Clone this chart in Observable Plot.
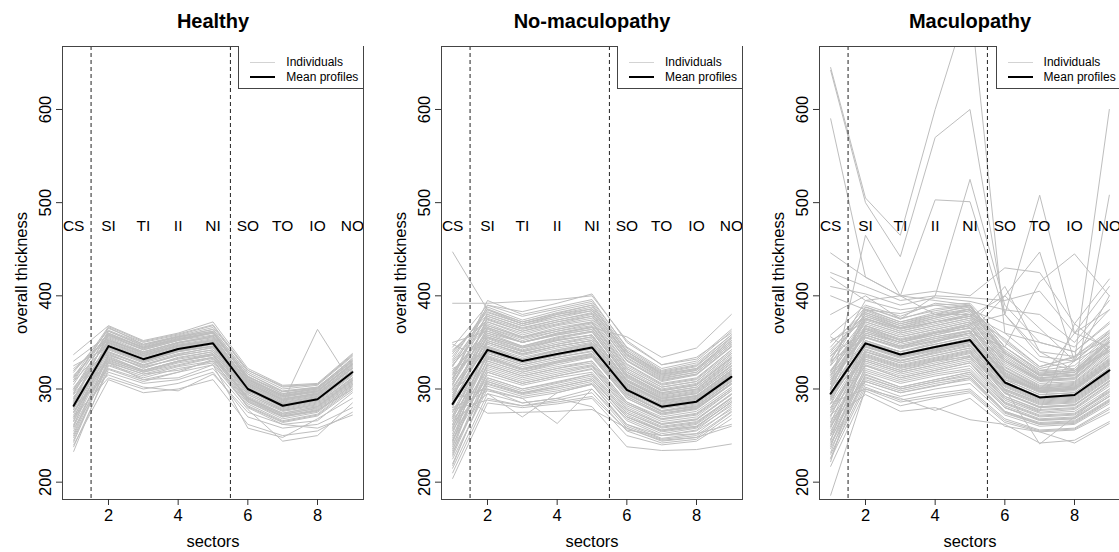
<!DOCTYPE html>
<html><head><meta charset="utf-8">
<script src="https://cdn.jsdelivr.net/npm/d3@7"></script>
<script src="https://cdn.jsdelivr.net/npm/@observablehq/plot@0.6"></script>
<style>
body{margin:0;background:#fff;}
#wrap{position:relative;width:1119px;height:552px;overflow:hidden;font-family:"Liberation Sans",Arial,sans-serif;background:#fff;}
.panel{position:absolute;top:0;width:385px;height:552px;}
.legend{position:absolute;top:46px;width:124.7px;height:43.3px;border:1px solid #444;border-top:none;border-right:none;background:#fff;font-size:12px;color:#000;box-sizing:border-box;}
.legend .ln{position:absolute;left:11px;width:25px;}
.legend .tx{position:absolute;left:47px;line-height:14px;white-space:nowrap;}
</style></head>
<body><div id="wrap"></div>
<script>
const sectorLabels = ["CS","SI","TI","II","NI","SO","TO","IO","NO"];
const panelTitles = ["Healthy","No-maculopathy","Maculopathy"];
const yTicks = [200,300,400,500,600];
const xTicks = [2,4,6,8];

const meanHealthy = [282,346,332,343,349,300,282,289,318];
const meanNoMac   = [284,342,330,337.5,344.6,299,281,286.4,313];
const meanMac     = [295,349,337,345,352.5,307,291,293.6,320];

const healthy = [
[300,352,338,349,356,306,288,294,322],[285,360,345,355,362,314,295,300,330],[270,340,326,336,342,296,278,285,312],
[310,365,350,358,368,318,300,304,335],[255,335,320,330,338,290,272,280,308],[290,348,334,345,350,302,284,290,318],
[320,356,342,352,360,310,292,298,326],[245,330,318,326,334,286,270,276,305],[275,345,330,340,346,298,280,287,316],
[337,368,352,360,372,322,304,306,338],[265,338,322,334,340,292,276,282,310],[295,355,340,350,355,308,290,295,325],
[233,325,312,322,328,282,265,272,300],[305,362,346,356,364,316,298,302,332],[280,342,328,338,344,296,279,286,314],
[315,350,336,347,352,304,286,292,320],[250,332,320,330,336,288,271,278,306],[288,358,342,352,358,312,293,298,328],
[262,336,324,332,338,290,274,281,309],[298,346,332,342,348,300,283,289,317],[240,310,296,300,310,262,250,255,275],
[270,312,300,306,318,270,258,262,280],[282,315,302,298,316,275,262,258,272],[258,318,306,310,322,278,244,250,285],
[276,322,310,312,326,258,248,268,290],[292,328,316,320,330,284,266,273,302],[308,366,348,357,366,320,302,305,336],
[325,345,332,344,350,300,282,290,318],[268,350,336,346,352,304,287,293,322],[300,339,325,336,342,294,277,284,312],
[278,354,338,348,354,306,289,296,324],[248,326,314,324,330,286,268,275,303],[312,360,344,354,360,310,294,300,329],
[286,334,320,330,336,289,273,279,307],[302,344,330,341,346,298,281,288,315],[260,328,310,318,332,280,262,266,296],
[294,340,326,337,345,297,285,364,305],[272,352,340,350,357,308,291,297,327],[318,363,348,356,362,313,297,301,333],
[284,331,318,328,334,290,270,277,300],
[296,362,347,356,364,316,297,302,331],[266,344,330,341,348,300,283,290,318],[308,349,335,346,351,303,285,292,320],
[252,337,323,333,340,294,277,283,311],[290,357,343,353,360,311,293,299,327],[322,353,339,350,357,307,289,295,323],
[278,347,333,343,350,301,284,291,319],[243,329,316,325,333,287,271,277,304],[300,359,344,353,361,313,295,301,330],
[287,343,329,340,346,299,281,288,316],[260,351,337,347,353,305,288,294,322],[313,367,351,359,369,320,303,305,337],
[275,333,319,329,337,291,274,281,309],[330,358,345,354,361,309,292,297,326],[238,321,308,318,326,281,264,271,298]
];

const noMac = [
[284,342,330,338,345,300,282,287,314],[310,370,356,364,372,322,302,308,338],[250,315,304,312,318,276,260,265,290],
[335,385,372,382,390,340,318,325,355],[225,300,290,296,305,262,247,252,280],[296,352,340,348,356,308,290,295,322],
[270,330,318,326,334,290,272,278,305],[320,360,350,358,364,315,296,302,330],[240,322,310,318,325,282,265,270,298],
[345,390,378,386,394,345,322,330,362],[262,336,324,332,338,295,276,282,308],[300,355,342,352,358,310,292,298,325],
[215,295,285,290,300,258,244,248,275],[288,348,336,344,350,304,286,291,318],[328,375,362,372,380,330,308,315,345],
[255,326,314,322,330,286,268,274,300],[305,365,350,360,366,318,298,304,334],[232,310,298,306,314,272,256,262,288],
[276,345,332,342,348,302,283,289,316],[340,380,368,378,384,336,314,320,350],[268,338,326,334,341,297,279,284,311],
[292,358,346,355,362,312,293,300,328],[204,285,280,284,290,250,240,244,268],[315,368,356,366,372,324,304,310,340],
[246,318,306,314,322,278,262,267,294],[282,340,328,336,343,299,281,286,312],[325,372,360,369,376,327,306,312,342],
[258,332,320,328,335,292,274,280,306],[298,350,338,346,352,306,288,293,320],[220,305,294,300,308,266,250,256,284],
[447,385,370,380,388,340,316,322,352],[392,392,394,396,400,352,326,334,360],[290,300,285,290,281,238,234,235,241],
[280,298,290,263,300,262,250,255,278],[265,295,270,296,305,260,246,250,276],[300,274,275,276,278,258,245,248,260],
[350,362,350,359,366,356,334,344,380],[310,390,383,392,402,350,326,332,364],[238,328,316,324,330,286,270,276,302],
[272,344,330,340,346,300,282,288,315],[318,366,354,362,370,320,300,306,336],[228,312,300,308,316,274,258,263,290],
[286,352,340,348,354,306,287,293,320],[330,378,366,374,382,334,312,318,348],[260,324,312,320,326,284,267,272,298],
[302,356,344,353,358,310,291,297,325],[245,308,296,304,312,270,255,260,286],[294,346,334,342,349,303,285,290,317],
[275,334,322,330,337,294,276,281,308],[338,383,370,380,386,338,316,322,354],[210,290,282,288,296,255,242,246,272],
[308,362,350,358,364,316,296,302,332],[266,320,308,316,324,280,263,268,295],[322,340,330,336,344,298,284,290,316],
[252,350,338,346,352,305,287,292,319],[348,330,318,328,335,290,273,279,305],[236,303,292,298,306,268,252,258,282],
[290,376,364,372,378,330,309,316,346],[278,288,282,286,292,256,250,252,262],[312,395,380,388,396,344,320,328,358],
[292,366,352,362,368,318,299,305,334],[258,338,326,334,340,296,277,283,310],[316,380,368,376,384,336,313,320,350],
[244,326,314,322,328,284,268,273,300],[300,360,346,356,362,314,295,300,330],[270,350,337,346,352,306,287,292,320],
[332,388,374,384,392,342,319,326,358],[230,318,306,314,321,278,262,267,294],[284,356,344,352,358,309,290,296,324],
[306,372,358,368,374,326,305,311,342],[262,345,332,341,347,301,282,288,315],[218,308,296,302,310,270,254,259,286],
[296,335,322,330,338,294,276,281,309],[342,374,362,370,378,331,310,316,346],[248,340,328,336,343,298,280,285,312],
[280,364,350,360,367,318,298,304,333],[324,386,372,381,390,340,317,324,356],[256,312,300,307,316,274,259,264,291],
[288,378,365,374,381,333,311,318,348],[234,333,321,329,336,292,274,279,306],[312,358,345,354,361,313,294,299,327],
[268,306,295,302,310,270,256,260,286],[304,382,370,378,386,337,315,321,352],[242,354,341,350,356,308,289,295,322],
[326,368,355,364,371,322,302,308,338]
];

const mac = [
[296,350,338,346,354,308,292,294,321],[320,372,360,368,376,326,306,308,338],[260,326,314,322,330,288,274,276,300],
[345,388,375,386,390,345,318,322,356],[230,305,292,300,306,272,260,262,284],[305,358,346,354,362,314,297,300,327],
[280,340,328,336,344,300,285,287,313],[335,380,366,376,384,336,312,315,348],[250,318,306,314,320,282,268,270,294],
[288,345,333,341,348,304,289,291,317],[312,365,353,361,368,320,301,304,332],[272,334,322,330,338,296,280,283,309],
[217,298,282,290,296,264,254,256,275],[328,376,362,372,380,332,310,312,344],[300,352,340,348,356,310,294,296,323],
[242,312,300,308,314,276,263,265,288],[358,390,378,392,388,350,322,330,362],[284,342,330,338,346,302,287,289,315],
[265,330,318,326,334,292,277,279,305],[318,368,356,364,372,323,303,306,335],[225,302,288,295,300,268,256,258,280],
[292,348,336,344,352,306,291,293,319],[340,384,370,380,386,340,315,318,352],[255,322,310,318,325,285,271,273,297],
[308,362,350,358,366,317,299,302,330],[276,337,325,333,341,298,283,285,311],[186,300,286,292,298,266,255,257,278],
[330,355,343,351,358,312,296,298,325],[236,308,296,304,310,274,262,263,286],[298,385,381,390,392,352,324,335,363],
[268,294,276,280,267,262,242,245,265],[285,300,290,277,290,260,254,242,263],[645,505,465,600,720,360,330,320,340],
[642,500,442,570,600,380,335,330,350],[590,420,400,395,390,345,320,318,345],[300,465,400,380,390,340,315,318,342],
[380,400,375,400,525,390,350,340,370],[330,395,400,503,501,380,340,335,360],[310,360,350,360,370,380,508,360,385],
[290,350,340,350,360,400,447,330,400],[300,355,345,352,360,345,415,445,400],[280,340,330,340,350,320,300,330,600],
[295,345,335,342,350,310,300,300,508],[446,420,400,405,400,430,425,370,418],[425,410,395,400,398,395,405,360,410],
[410,402,390,398,394,385,380,350,395],[420,395,385,390,385,370,360,345,385],[400,385,372,380,380,360,350,340,372],
[315,375,365,372,378,400,365,330,360],[302,368,352,360,368,410,340,320,350],[250,332,320,330,335,300,241,270,300],
[320,364,350,360,365,330,310,360,345],[275,325,312,320,328,290,276,370,340],[338,378,365,372,378,354,324,334,355],
[246,315,302,310,318,280,266,268,292],[306,360,348,356,363,315,298,301,329],[262,328,316,324,332,290,275,278,303],
[325,370,358,366,374,328,308,310,340],[288,346,334,342,350,305,290,292,318],[350,382,368,378,384,338,314,316,350],
[240,310,298,306,312,275,262,264,287],[278,338,326,334,342,299,284,286,312],[314,366,354,362,370,321,302,305,333],
[356,330,318,326,334,292,278,280,306],[222,340,328,336,344,300,286,288,314],
[300,374,362,370,378,330,309,312,342],[258,336,324,332,340,296,281,283,308],[332,386,372,382,388,342,317,320,354],
[246,320,308,316,322,284,270,272,296],[310,358,346,356,362,316,298,300,328],[270,352,340,348,356,310,294,296,322],
[342,380,368,376,386,338,314,318,350],[232,325,312,320,328,286,272,274,298],[290,364,352,360,368,320,301,303,331],
[318,378,366,374,382,334,312,315,346],[264,347,335,343,351,306,290,292,318],[226,316,302,310,318,280,267,269,292],
[296,332,320,328,336,295,280,282,308],[352,372,360,368,376,330,309,311,342],[252,343,331,339,347,303,288,290,316],
[284,368,356,364,372,324,304,307,336],[326,388,376,384,390,345,320,325,358],[260,313,300,308,316,280,267,268,292],
[292,382,370,378,386,338,316,320,352],[238,335,323,331,339,296,281,283,309],[316,356,344,352,360,313,297,299,326],
[272,308,296,303,312,276,264,266,289],[306,376,364,372,380,332,311,314,345],[244,358,346,354,360,314,298,300,327],
[336,362,350,358,366,318,300,302,330]
];

const groups = [healthy, noMac, mac];
const means = [meanHealthy, meanNoMac, meanMac];
const FONT = '"Liberation Sans", Arial, sans-serif';
const wrap = document.getElementById("wrap");
const panelLefts = [0, 378.7, 757.3];

groups.forEach((g, gi) => {
  const indiv = [];
  g.forEach((row, id) => row.forEach((v, s) => indiv.push({id, sector: s + 1, value: v})));
  const meanData = means[gi].map((v, s) => ({sector: s + 1, value: v}));
  const chart = Plot.plot({
    width: 385, height: 552,
    marginLeft: 62, marginRight: 22, marginTop: 46, marginBottom: 53,
    x: {domain: [0.68, 9.32]},
    y: {domain: [181.4, 667.6]},
    style: {fontFamily: FONT, fontSize: "16px", background: "transparent", color: "#000", overflow: "visible"},
    marks: [
      Plot.lineY(indiv, {x: "sector", y: "value", z: "id", stroke: "#bebebe", strokeWidth: 1, clip: true}),
      Plot.lineY(meanData, {x: "sector", y: "value", stroke: "#000", strokeWidth: 2}),
      Plot.ruleX([1.5, 5.5], {stroke: "#222", strokeDasharray: "4,3", strokeWidth: 1}),
      Plot.text(sectorLabels, {x: (d, i) => i + 1, y: () => 475, text: d => d, fontSize: 15.5, fill: "#000", lineAnchor: "middle"}),
      Plot.frame({stroke: "#444"}),
      Plot.axisX({ticks: xTicks, tickSize: 6, tickPadding: 4, fontSize: 16.5, label: null, stroke: "#333"}),
      Plot.axisY({ticks: yTicks, tickSize: 6, tickRotate: -90, tickPadding: 6, fontSize: 16.5, label: null, stroke: "#333"}),
      Plot.text([panelTitles[gi]], {frameAnchor: "top", dy: -25, lineAnchor: "middle", textAnchor: "middle", fontWeight: "bold", fontSize: 20, fill: "#000"}),
      Plot.text(["sectors"], {frameAnchor: "bottom", dy: 42.7, lineAnchor: "middle", textAnchor: "middle", fontSize: 16.5, fill: "#000"}),
      Plot.text(["overall thickness"], {frameAnchor: "left", dx: -41, rotate: -90, lineAnchor: "middle", textAnchor: "middle", fontSize: 16.5, fill: "#000"})
    ]
  });
  const panel = document.createElement("div");
  panel.className = "panel";
  panel.style.left = panelLefts[gi] + "px";
  panel.appendChild(chart);
  const leg = document.createElement("div");
  leg.className = "legend";
  leg.style.left = (62 + 301 - 124.7) + "px";
  leg.innerHTML =
    '<div class="ln" style="top:15.5px;border-top:1.5px solid #d3d3d3"></div>' +
    '<div class="tx" style="top:9px">Individuals</div>' +
    '<div class="ln" style="top:30px;border-top:2px solid #000"></div>' +
    '<div class="tx" style="top:24px">Mean profiles</div>';
  panel.appendChild(leg);
  wrap.appendChild(panel);
});
</script></body></html>
